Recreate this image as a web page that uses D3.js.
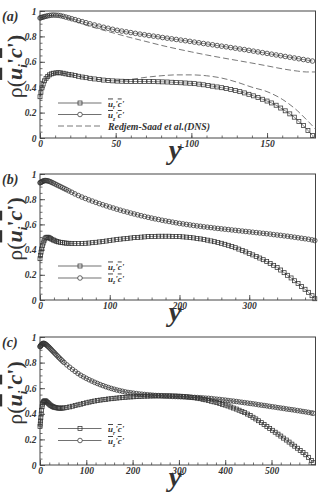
<!DOCTYPE html>
<html>
<head>
<meta charset="utf-8">
<script src="https://cdn.jsdelivr.net/npm/d3@7"></script>
<style>
  body { margin: 0; background: #fff; }
  svg { display: block; }
</style>
</head>
<body>
<div id="canvas"></div>
<script>
"use strict"

/*** DATA ***/
/* panel (a): Re_tau = 180 */
const aYp = [0, 0.6, 1.3, 2.1, 3, 4, 5.1, 6.3, 7.6, 9, 10.5, 12, 13.6, 15.3, 17.1, 19, 21, 23.2, 25.5, 27.9, 30.4,
    33, 36, 39, 42, 45, 48, 51, 54, 57, 60, 63, 66, 69, 72, 75, 78, 81, 84, 87, 90, 93, 96, 99, 102, 105, 108,
    111, 114, 117, 120, 123, 126, 129, 132, 135, 138, 141, 144, 147, 150, 153, 156, 159, 162, 165, 168, 171, 174, 177, 180]
const aUr = [0.325, 0.36, 0.395, 0.425, 0.450, 0.470, 0.485, 0.497, 0.505, 0.510, 0.513, 0.514, 0.513, 0.510, 0.505, 0.501, 0.497, 0.492, 0.486, 0.480, 0.475,
    0.470, 0.465, 0.460, 0.456, 0.453, 0.450, 0.448, 0.447, 0.446, 0.445, 0.445, 0.445, 0.445, 0.444, 0.444, 0.443, 0.442, 0.441, 0.439, 0.437,
    0.435, 0.433, 0.431, 0.428, 0.424, 0.419, 0.414, 0.408, 0.402, 0.396, 0.389, 0.382, 0.374, 0.365, 0.355, 0.344, 0.332, 0.319, 0.305, 0.291,
    0.276, 0.258, 0.236, 0.214, 0.190, 0.164, 0.130, 0.098, 0.060, 0.020]
const aUz = [0.945, 0.947, 0.950, 0.953, 0.956, 0.959, 0.962, 0.965, 0.967, 0.968, 0.967, 0.966, 0.963, 0.958, 0.952, 0.946, 0.939, 0.932, 0.924, 0.916, 0.908,
    0.899, 0.890, 0.881, 0.872, 0.864, 0.856, 0.848, 0.842, 0.836, 0.830, 0.824, 0.818, 0.813, 0.807, 0.802, 0.797, 0.791, 0.786, 0.781, 0.776,
    0.771, 0.766, 0.761, 0.755, 0.750, 0.744, 0.739, 0.734, 0.728, 0.723, 0.718, 0.712, 0.707, 0.701, 0.696, 0.690, 0.684, 0.678, 0.672, 0.666,
    0.660, 0.654, 0.648, 0.642, 0.636, 0.630, 0.624, 0.618, 0.612, 0.606]
/* Redjem-Saad et al. (DNS) */
const dnsYp = [0, 1, 2, 3, 5, 8, 12, 16, 20, 25, 30, 40, 50, 60, 70, 80, 90, 100, 110, 120, 130, 140, 150, 160, 170, 176, 182]
const dnsUr = [0.325, 0.39, 0.425, 0.45, 0.484, 0.507, 0.514, 0.508, 0.499, 0.487, 0.476, 0.458, 0.452, 0.462, 0.478, 0.490, 0.497, 0.497,
    0.490, 0.472, 0.440, 0.400, 0.365, 0.305, 0.215, 0.145, 0.070]
const dnsUz = [0.945, 0.948, 0.952, 0.956, 0.962, 0.966, 0.964, 0.952, 0.935, 0.912, 0.890, 0.855, 0.822, 0.790, 0.760, 0.730, 0.703, 0.678,
    0.654, 0.632, 0.611, 0.590, 0.568, 0.545, 0.527, 0.520, 0.520]

/* panel (b): Re_tau = 395 */
const bYp = [0, 0.7, 1.5, 2.4, 3.4, 4.5, 5.7, 7, 8.4, 9.9, 11.5, 13.2, 15, 17, 19.2, 21.5, 24, 26.6, 29.3, 32.1, 35, 38, 41.5, 45.5,
    50, 55, 60, 65, 70, 75, 80, 85, 90, 95, 100, 105, 110, 115, 120, 125, 130, 135, 140, 145, 150, 155, 160, 165, 170, 175,
    180, 185, 190, 195, 200, 205, 210, 215, 220, 225, 230, 235, 240, 245, 250, 255, 260, 265, 270, 275, 280, 285, 290, 295,
    300, 305, 310, 315, 320, 325, 330, 335, 340, 345, 350, 355, 360, 365, 370, 375, 380, 385, 390, 394]
const bUr = [0.328, 0.355, 0.38, 0.405, 0.43, 0.452, 0.47, 0.485, 0.494, 0.498, 0.498, 0.494, 0.488, 0.482, 0.476, 0.470, 0.465, 0.461, 0.458, 0.455, 0.453, 0.451, 0.450, 0.449,
    0.448, 0.448, 0.448, 0.450, 0.452, 0.455, 0.458, 0.461, 0.465, 0.468, 0.472, 0.476, 0.480, 0.483, 0.486, 0.489, 0.492, 0.495, 0.497, 0.499,
    0.501, 0.503, 0.504, 0.505, 0.506, 0.506, 0.506, 0.506, 0.505, 0.504, 0.503, 0.501, 0.499, 0.496, 0.493, 0.489, 0.485, 0.480, 0.475, 0.469,
    0.463, 0.457, 0.450, 0.442, 0.434, 0.425, 0.415, 0.404, 0.393, 0.382, 0.370, 0.358, 0.346, 0.333, 0.320, 0.305, 0.290, 0.275, 0.258, 0.238,
    0.217, 0.196, 0.175, 0.153, 0.130, 0.108, 0.085, 0.061, 0.034, 0.010]
const bUz = [0.930, 0.932, 0.935, 0.938, 0.941, 0.944, 0.946, 0.948, 0.948, 0.947, 0.945, 0.942, 0.938, 0.933, 0.927, 0.921, 0.914, 0.907, 0.900, 0.892, 0.884, 0.876, 0.866, 0.855,
    0.842, 0.829, 0.817, 0.806, 0.795, 0.785, 0.775, 0.765, 0.756, 0.747, 0.738, 0.730, 0.721, 0.713, 0.705, 0.698, 0.690, 0.683, 0.676, 0.669,
    0.663, 0.656, 0.650, 0.644, 0.639, 0.633, 0.628, 0.623, 0.618, 0.613, 0.608, 0.604, 0.600, 0.596, 0.592, 0.588, 0.585, 0.581, 0.578, 0.575,
    0.571, 0.568, 0.565, 0.562, 0.559, 0.556, 0.553, 0.550, 0.547, 0.544, 0.541, 0.538, 0.535, 0.532, 0.529, 0.526, 0.523, 0.519, 0.516, 0.513,
    0.509, 0.506, 0.502, 0.498, 0.494, 0.490, 0.486, 0.482, 0.477, 0.472]

/* panel (c): Re_tau = 590 */
const cYp = [0, 0.5, 1.1, 1.8, 2.6, 3.5, 4.5, 5.6, 6.8, 8.1, 9.5, 11, 12.6, 14.3, 16.1, 18, 20, 22.1, 24.3, 26.6, 29, 31.5, 34.1, 36.8, 39.6, 42.5, 45.5, 48.6,
    52, 58, 64, 70, 76, 82, 88, 94, 100, 106, 112, 118, 124, 130, 136, 142, 148, 154, 160, 166, 172, 178, 184, 190, 196, 202, 208, 214,
    220, 226, 232, 238, 244, 250, 256, 262, 268, 274, 280, 286, 292, 298, 304, 310, 316, 322, 328, 334, 340, 346, 352, 358, 364, 370,
    376, 382, 388, 394, 400, 406, 412, 418, 424, 430, 436, 442, 448, 454, 460, 466, 472, 478, 484, 490, 496, 502, 508, 514, 520, 526,
    532, 538, 544, 550, 556, 562, 568, 574, 580, 586, 590]
const cUr = [0.300, 0.320, 0.344, 0.370, 0.398, 0.428, 0.455, 0.475, 0.488, 0.496, 0.500, 0.501, 0.499, 0.494, 0.488, 0.482, 0.475, 0.468, 0.463, 0.458, 0.454, 0.451, 0.448, 0.446, 0.445, 0.444, 0.444, 0.445,
    0.446, 0.450, 0.454, 0.459, 0.464, 0.470, 0.475, 0.481, 0.486, 0.491, 0.495, 0.500, 0.503, 0.507, 0.510, 0.513, 0.516, 0.518, 0.521, 0.523, 0.525, 0.527, 0.529, 0.531, 0.532, 0.533, 0.535, 0.536,
    0.537, 0.538, 0.538, 0.539, 0.539, 0.540, 0.540, 0.540, 0.540, 0.540, 0.540, 0.539, 0.539, 0.538, 0.537, 0.535, 0.533, 0.531, 0.528, 0.525, 0.522, 0.518, 0.513, 0.509, 0.504, 0.498,
    0.493, 0.487, 0.481, 0.474, 0.468, 0.461, 0.453, 0.445, 0.437, 0.428, 0.419, 0.409, 0.398, 0.386, 0.373, 0.360, 0.346, 0.331, 0.316, 0.301, 0.286, 0.271, 0.256, 0.241, 0.226, 0.210,
    0.195, 0.179, 0.163, 0.147, 0.131, 0.114, 0.097, 0.080, 0.060, 0.036, 0.018]
const cUz = [0.924, 0.927, 0.930, 0.934, 0.938, 0.941, 0.945, 0.948, 0.950, 0.950, 0.949, 0.946, 0.942, 0.937, 0.931, 0.925, 0.918, 0.910, 0.902, 0.893, 0.884, 0.875, 0.865, 0.855, 0.844, 0.834, 0.823, 0.812,
    0.801, 0.782, 0.764, 0.747, 0.731, 0.715, 0.701, 0.689, 0.677, 0.666, 0.656, 0.646, 0.637, 0.628, 0.620, 0.612, 0.605, 0.598, 0.592, 0.586, 0.581, 0.576, 0.571, 0.567, 0.564, 0.561, 0.558, 0.555,
    0.553, 0.551, 0.549, 0.547, 0.545, 0.543, 0.542, 0.541, 0.539, 0.538, 0.537, 0.536, 0.535, 0.534, 0.533, 0.532, 0.531, 0.530, 0.529, 0.528, 0.527, 0.526, 0.524, 0.522, 0.521, 0.519,
    0.516, 0.514, 0.512, 0.509, 0.507, 0.504, 0.501, 0.499, 0.496, 0.493, 0.490, 0.487, 0.484, 0.481, 0.478, 0.475, 0.471, 0.468, 0.465, 0.462, 0.458, 0.455, 0.452, 0.448, 0.445, 0.442,
    0.438, 0.435, 0.432, 0.429, 0.425, 0.422, 0.418, 0.415, 0.411, 0.407, 0.404]

/* ticks */
const aXTicks = [0, 50, 100, 150]
const bXTicks = [0, 100, 200, 300]
const cXTicks = [0, 100, 200, 300, 400, 500]
const yTicks = [0, 0.2, 0.4, 0.6, 0.8, 1]


/*** CANVAS SETUP ***/
let svgWidth = 322
let svgHeight = 496
let serif = "'Liberation Serif', 'DejaVu Serif', serif"
let ink = "#333"

let svg = d3.select("#canvas")
    .append("svg")
    .attr("width", svgWidth)
    .attr("height", svgHeight)

/* one config per panel, layout only (data comes from the arrays above) */
let panels = [
    { tag: "(a)", clipTop: 0,   clipBottom: 166, top: 11,  bottom: 138, xMax: 182, xTicks: aXTicks, xMinor: 10,
      yp: aYp, ur: aUr, uz: aUz, dns: true, legendY: 103 },
    { tag: "(b)", clipTop: 166, clipBottom: 327, top: 174, bottom: 300, xMax: 395, xTicks: bXTicks, xMinor: 20,
      yp: bYp, ur: bUr, uz: bUz, dns: false, legendY: 266 },
    { tag: "(c)", clipTop: 327, clipBottom: 496, top: 337, bottom: 465, xMax: 595, xTicks: cXTicks, xMinor: 20,
      yp: cYp, ur: cUr, uz: cUz, dns: false, legendY: 428.5 }
]
let left = 40
let right = 315.5

panels.forEach(drawPanel)

/* u_i'c' style label with overbars; sub = subscript letter */
function fluxLabel(g, x, y, size, sub) {
    let t = g.append("text")
        .attr("x", x)
        .attr("y", y)
        .attr("font-family", serif)
        .attr("font-size", size)
        .attr("font-style", "italic")
        .attr("font-weight", "bold")
        .attr("fill", ink)
    t.append("tspan").text("u").attr("text-decoration", "overline")
    t.append("tspan").text(sub).attr("font-size", size * 0.62).attr("dy", size * 0.28)
    t.append("tspan").text("'").attr("dy", -size * 0.28)
    t.append("tspan").text("c").attr("text-decoration", "overline")
    t.append("tspan").text("'")
    return t
}

function drawPanel(p) {
    let g = svg.append("g")

    /* white strip: each sub-figure covers the bottom of the one above it */
    g.append("rect")
        .attr("x", 0).attr("y", p.clipTop)
        .attr("width", svgWidth).attr("height", p.clipBottom - p.clipTop)
        .attr("fill", "#fff")

    let xScale = d3.scaleLinear().domain([0, p.xMax]).range([left, right])
    let yScale = d3.scaleLinear().domain([0, 1]).range([p.bottom, p.top])

    /* minor ticks (inward) */
    let xMinor = d3.range(0, p.xMax, p.xMinor)
    g.append("g")
        .attr("transform", "translate(0," + p.bottom + ")")
        .call(d3.axisBottom(xScale).tickValues(xMinor).tickSize(-2.5).tickFormat(""))
        .call(a => a.select(".domain").remove())
        .selectAll("line").attr("stroke", ink).attr("stroke-width", 0.7)

    g.append("g")
        .attr("transform", "translate(" + left + ",0)")
        .call(d3.axisLeft(yScale).tickValues(d3.range(0, 1.001, 0.05)).tickSize(-2.5).tickFormat(""))
        .call(a => a.select(".domain").remove())
        .selectAll("line").attr("stroke", ink).attr("stroke-width", 0.7)

    /* major ticks + labels */
    let xAxis = g.append("g")
        .attr("transform", "translate(0," + p.bottom + ")")
        .call(d3.axisBottom(xScale).tickValues(p.xTicks).tickSize(-5).tickPadding(2.5).tickFormat(d3.format("d")))
    xAxis.select(".domain").remove()
    xAxis.selectAll("line").attr("stroke", ink).attr("stroke-width", 0.8)
    xAxis.selectAll("text")
        .attr("font-family", serif).attr("font-size", 9.5)
        .attr("font-style", "italic").attr("font-weight", "bold").attr("fill", ink)

    let yAxis = g.append("g")
        .attr("transform", "translate(" + left + ",0)")
        .call(d3.axisLeft(yScale).tickValues(yTicks).tickSize(-5).tickPadding(3.5).tickFormat(d3.format("~g")))
    yAxis.select(".domain").remove()
    yAxis.selectAll("line").attr("stroke", ink).attr("stroke-width", 0.8)
    yAxis.selectAll("text")
        .attr("font-family", serif).attr("font-size", 9.5)
        .attr("font-style", "italic").attr("font-weight", "bold").attr("fill", ink)

    /* frame */
    g.append("rect")
        .attr("x", left).attr("y", p.top)
        .attr("width", right - left).attr("height", p.bottom - p.top)
        .attr("fill", "none").attr("stroke", "#444").attr("stroke-width", 1)

    /* DNS reference curves */
    if (p.dns) {
        let dnsLine = d3.line()
            .x((d, i) => xScale(dnsYp[i]))
            .y(d => yScale(d))
            .curve(d3.curveMonotoneX)
        ;[dnsUz, dnsUr].forEach(s => {
            g.append("path")
                .attr("d", dnsLine(s))
                .attr("fill", "none").attr("stroke", "#555")
                .attr("stroke-width", 0.8).attr("stroke-dasharray", "6,3")
        })
    }

    /* LES curves: thin line + open markers */
    let line = d3.line()
        .x((d, i) => xScale(p.yp[i]))
        .y(d => yScale(d))
    ;[p.uz, p.ur].forEach(s => {
        g.append("path")
            .attr("d", line(s))
            .attr("fill", "none").attr("stroke", ink).attr("stroke-width", 0.6)
    })

    g.append("g").selectAll("circle")
        .data(p.uz)
        .join("circle")
        .attr("cx", (d, i) => xScale(p.yp[i]))
        .attr("cy", d => yScale(d))
        .attr("r", 2.3)
        .attr("fill", "none").attr("stroke", ink).attr("stroke-width", 0.75)

    g.append("g").selectAll("rect")
        .data(p.ur)
        .join("rect")
        .attr("x", (d, i) => xScale(p.yp[i]) - 2)
        .attr("y", d => yScale(d) - 2)
        .attr("width", 4).attr("height", 4)
        .attr("fill", "none").attr("stroke", ink).attr("stroke-width", 0.75)

    /* legend */
    let lg = g.append("g")
    let lx1 = 58, lx2 = 101.5, lmx = 80, ltx = 108
    let rowGap = p.dns ? 11.5 : 12

    lg.append("line").attr("x1", lx1).attr("x2", lx2).attr("y1", p.legendY).attr("y2", p.legendY)
        .attr("stroke", ink).attr("stroke-width", 0.7)
    lg.append("rect").attr("x", lmx - 2).attr("y", p.legendY - 2).attr("width", 4).attr("height", 4)
        .attr("fill", "none").attr("stroke", ink).attr("stroke-width", 0.75)
    fluxLabel(lg, ltx, p.legendY + 3.5, 9, "r")

    lg.append("line").attr("x1", lx1).attr("x2", lx2).attr("y1", p.legendY + rowGap).attr("y2", p.legendY + rowGap)
        .attr("stroke", ink).attr("stroke-width", 0.7)
    lg.append("circle").attr("cx", lmx).attr("cy", p.legendY + rowGap).attr("r", 2.3)
        .attr("fill", "#fff").attr("stroke", ink).attr("stroke-width", 0.75)
    fluxLabel(lg, ltx, p.legendY + rowGap + 3.5, 9, "z")

    if (p.dns) {
        lg.append("line").attr("x1", lx1).attr("x2", lx2)
            .attr("y1", p.legendY + 2 * rowGap).attr("y2", p.legendY + 2 * rowGap)
            .attr("stroke", "#555").attr("stroke-width", 0.8).attr("stroke-dasharray", "6,3")
        lg.append("text")
            .text("Redjem-Saad et al.(DNS)")
            .attr("x", ltx).attr("y", p.legendY + 2 * rowGap + 3.5)
            .attr("font-family", serif).attr("font-size", 9.8)
            .attr("font-style", "italic").attr("font-weight", "bold").attr("fill", ink)
    }

    /* panel tag */
    g.append("text")
        .text(p.tag)
        .attr("x", 2).attr("y", p.top + 10)
        .attr("font-family", serif).attr("font-size", 14)
        .attr("font-style", "italic").attr("font-weight", "bold").attr("fill", ink)

    /* y title: rho(u_i'c') rotated */
    let yt = g.append("text")
        .attr("transform", "translate(22," + ((p.top + p.bottom) / 2 - 8) + ") rotate(-90)")
        .attr("text-anchor", "middle")
        .attr("font-family", serif).attr("font-size", 22).attr("fill", ink)
    yt.append("tspan").text("ρ(")
    yt.append("tspan").text("u").attr("font-style", "italic").attr("font-weight", "bold")
        .attr("text-decoration", "overline")
    yt.append("tspan").text("i").attr("font-style", "italic").attr("font-weight", "bold")
        .attr("font-size", 13).attr("dy", 5)
    yt.append("tspan").text("'").attr("font-weight", "bold").attr("dy", -5)
    yt.append("tspan").text("c").attr("font-style", "italic").attr("font-weight", "bold")
        .attr("text-decoration", "overline")
    yt.append("tspan").text("')").attr("font-weight", "bold")

    /* x title: y+ */
    g.append("text")
        .text("y")
        .attr("x", 175).attr("y", p.bottom + 20.5)
        .attr("text-anchor", "middle")
        .attr("font-family", serif).attr("font-size", 28)
        .attr("font-style", "italic").attr("font-weight", "bold").attr("fill", ink)
    g.append("text")
        .text("+")
        .attr("x", 181).attr("y", p.bottom + 12.5)
        .attr("text-anchor", "middle")
        .attr("font-family", serif).attr("font-size", 12)
        .attr("font-weight", "bold").attr("fill", ink)
}
</script>
</body>
</html>
